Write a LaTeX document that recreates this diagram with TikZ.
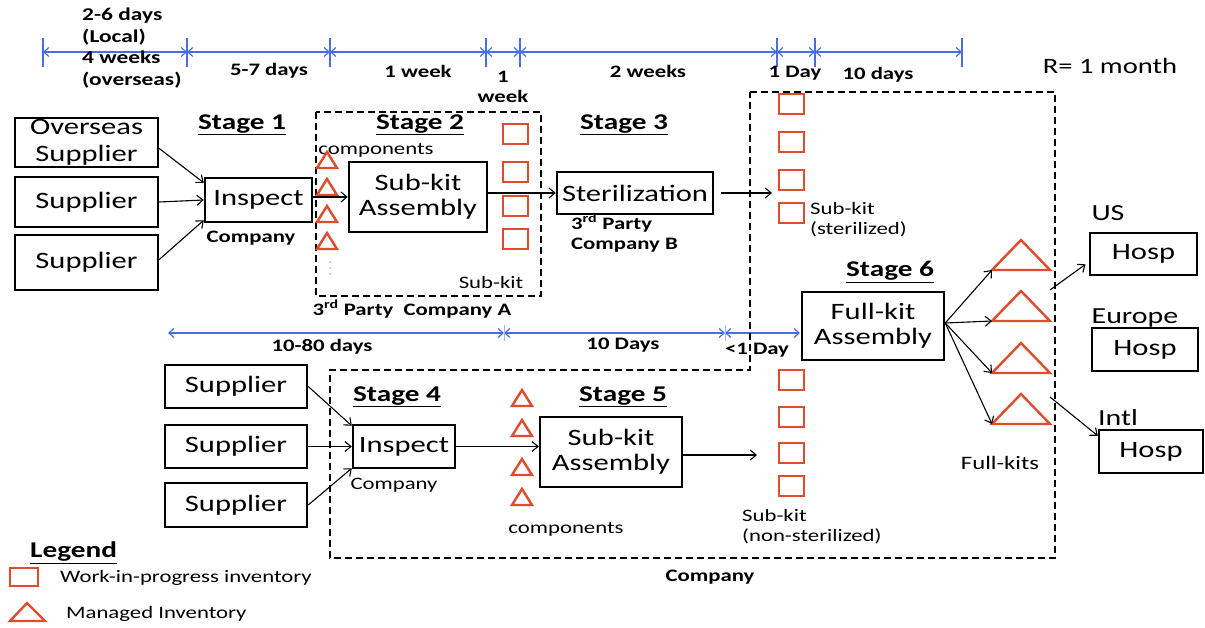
\documentclass[tikz,border=0pt]{standalone}
\usepackage{fontspec}
\setmainfont{Carlito}[FakeStretch=1.3]
\usetikzlibrary{arrows.meta}
\definecolor{inv}{RGB}{222,75,45}
\definecolor{tlc}{RGB}{70,110,225}
\begin{document}
\begin{tikzpicture}[x=1pt,y=-1pt,
 box/.style={draw,line width=2.5pt,inner sep=0pt,align=center,font=\fontsize{23.5}{25}\selectfont},
 conn/.style={draw,line width=1.1pt,-{Straight Barb[length=6pt,width=10pt]}},
 tline/.style={draw=tlc,line width=1.2pt,{Straight Barb[length=5pt,width=9pt]}-{Straight Barb[length=5pt,width=9pt]}},
 tmark/.style={draw=tlc,line width=1.4pt},
 lbl/.style={font=\fontsize{17.5}{21.5}\selectfont\bfseries,inner sep=0pt,align=center},
 lbll/.style={font=\fontsize{17.5}{20}\selectfont\bfseries,inner sep=0pt,align=left},
 txt/.style={font=\fontsize{17.5}{20}\selectfont,inner sep=0pt,align=left},
 stage/.style={font=\fontsize{22.5}{24}\selectfont\bfseries,inner sep=0pt},
 bigt/.style={font=\fontsize{23}{24}\selectfont,inner sep=0pt},
 wip/.style={draw=inv,line width=2.2pt},
 tri/.style={draw=inv,line width=2.4pt,line join=miter},
 dbox/.style={draw,line width=2pt,dash pattern=on 7pt off 4pt}
]
\useasboundingbox (0,0) rectangle (1205,628);

% ---------- top timeline ----------
\foreach \n/\x in {0/43,1/187,2/330,3/486,4/520,5/777,6/815,7/962}{
  \coordinate (t\n) at (\x,52);
  \draw[tmark] (\x,38) -- (\x,67);
}
\draw[tline] (t0) -- (t1);
\draw[tline] (t1) -- (t2);
\draw[tline] (t2) -- (t3);
\draw[tline] (t3) -- (t4);
\draw[tline] (t4) -- (t5);
\draw[tline] (t5) -- (t6);
\draw[tline] (t6) -- (t7);

\node[lbll,anchor=north west,font=\fontsize{18}{21.5}\selectfont\bfseries] (l26) at (82,8) {2-6 days\\(Local)\\4 weeks\\(overseas)};
\node[lbl] (l57) at (269,71) {5-7 days};
\node[lbl] (l1w) at (418,71) {1 week};
\node[lbl,font=\fontsize{17.5}{20}\selectfont\bfseries] (l1w2) at (503,87) {1\\week};
\node[lbl] (l2w) at (648,71) {2 weeks};
\node[lbl] (l1d) at (795,73) {1 Day};
\node[lbl] (l10d) at (878,75) {10 days};
\node[font=\fontsize{22}{24}\selectfont,inner sep=0pt] (rm) at (1110,66) {R= 1 month};

% ---------- middle timeline ----------
\coordinate (m0) at (168,333);
\coordinate (m1) at (504,333);
\coordinate (m2) at (725,333);
\coordinate (m3) at (800,333);
\draw[tline] (m0) -- (m1);
\draw[tline] (m1) -- (m2);
\draw[tline] (m2) -- (m3);
\draw[draw=tlc!50,line width=0.6pt] (504,325) -- (504,341);
\draw[draw=tlc!50,line width=0.6pt] (725,325) -- (725,341);
\node[lbl] (l1080) at (322,347) {10-80 days};
\node[lbl] (l10D) at (623,345) {10 Days};
\node[lbl] (llt1) at (757,350) {<1 Day};

% ---------- dashed regions ----------
\draw[dbox] (316,112) rectangle (541,296);
\draw[dbox] (750,92) -- (1055,92) -- (1055,558) -- (330,558) -- (330,370) -- (750,370) -- cycle;

% ---------- stage labels ----------
\node[stage] (st1) at (242,125) {\underline{Stage 1}};
\node[stage] (st2) at (420,125) {\underline{Stage 2}};
\node[stage] (st3) at (624,125) {\underline{Stage 3}};
\node[stage] (st4) at (397,397) {\underline{Stage 4}};
\node[stage] (st5) at (623,397) {\underline{Stage 5}};
\node[stage] (st6) at (890,272) {\underline{Stage 6}};

% ---------- boxes ----------
\node[box,minimum width=143,minimum height=49,font=\fontsize{23.5}{27}\selectfont] (os) at (86.5,142.5) {Overseas\\Supplier};
\node[box,minimum width=143,minimum height=50] (s1) at (86.5,202) {Supplier};
\node[box,minimum width=143,minimum height=55] (s2) at (86.5,262.5) {Supplier};
\node[box,minimum width=107,minimum height=44] (insp1) at (258.5,200) {Inspect};
\node[box,minimum width=138,minimum height=70] (sub1) at (418,197) {Sub-kit\\Assembly};
\node[box,minimum width=156,minimum height=42] (ster) at (635,193) {Sterilization};
\node[box,minimum width=142,minimum height=68] (full) at (873,326) {Full-kit\\Assembly};
\node[box,minimum width=107,minimum height=42] (hus) at (1143.5,254) {Hosp};
\node[box,minimum width=106,minimum height=43] (heu) at (1145,349.5) {Hosp};
\node[box,minimum width=104,minimum height=43] (hin) at (1151,451.5) {Hosp};
\node[box,minimum width=142,minimum height=43] (ls1) at (236,386.5) {Supplier};
\node[box,minimum width=142,minimum height=43] (ls2) at (236,446.5) {Supplier};
\node[box,minimum width=142,minimum height=44] (ls3) at (236,505) {Supplier};
\node[box,minimum width=102,minimum height=43] (insp2) at (404,446.5) {Inspect};
\node[box,minimum width=142,minimum height=70] (sub2) at (611,452) {Sub-kit\\Assembly};

\node[bigt] (us) at (1108,213) {US};
\node[bigt] (eu) at (1135,318) {Europe};
\node[bigt] (intl) at (1118,418) {Intl};

% ---------- small texts ----------
\node[txt] (comp1) at (376,150) {components};
\node[lbl] (co1) at (251,238) {Company};
\node[txt] (sk1) at (491,282) {Sub-kit};
\node[lbl] (tpa) at (412,309) {3\textsuperscript{rd} Party\ \ Company A};
\node[lbll,anchor=north west] (tpb) at (571,214) {3\textsuperscript{rd} Party\\Company B};
\node[txt,anchor=north west] (skst) at (810,202) {Sub-kit\\(sterilized)};
\node[txt] (co2) at (394,485) {Company};
\node[txt] (comp2) at (566,529) {components};
\node[txt,anchor=north west] (skns) at (742,509) {Sub-kit\\(non-sterilized)};
\node[txt,font=\fontsize{19}{20}\selectfont] (fk) at (1000,463) {Full-kits};
\node[lbl] (co3) at (710,577) {Company};

% ---------- inventory symbols ----------
\foreach \y in {160,187,214,241}{
  \draw[tri] (317,\y+8) -- (327,\y-8) -- (337,\y+8) -- cycle;
}
\foreach \y in {398,428,467,497}{
  \draw[tri] (512,\y+8) -- (522,\y-8) -- (532,\y+8) -- cycle;
}
\foreach \y in {262,268,274}{
  \fill[gray!60] (330,\y) circle (1pt);
}
\foreach \y in {134,172,206,239}{
  \draw[wip] (503,\y-10) rectangle (528,\y+10);
}
\foreach \y in {104,142,180,213}{
  \draw[wip] (779,\y-10) rectangle (804,\y+10);
}
\foreach \y in {380,417,453,486}{
  \draw[wip] (779,\y-10) rectangle (804,\y+10);
}
\foreach \n/\y in {1/240,2/291,3/343,4/394}{
  \coordinate (ft\n) at (992,\y+30);
  \draw[tri] (ft\n) -- (1021,\y) -- (1050,\y+30) -- cycle;
}

% ---------- connectors ----------
\draw[conn] ([yshift=-6pt]os.east) -- ([yshift=-6pt]insp1.north west);
\draw[conn] (s1.east) -- (insp1.west);
\draw[conn] ([yshift=3pt]s2.east) -- ([yshift=3pt]insp1.south west);
\draw[conn] (insp1.east |- sub1.west) -- (sub1.west);
\draw[conn] (sub1.east |- ster.west) -- (ster.west);
\coordinate (c1) at (772,193);
\draw[conn,shorten <=7pt] (ster.east) -- (c1);
\draw[conn] (ls1.east) -- ([yshift=-2pt]insp2.north west);
\draw[conn] (ls2.east) -- (insp2.west);
\draw[conn] (ls3.east) -- ([yshift=1pt]insp2.south west);
\draw[conn] (insp2.east) -- (insp2.east -| sub2.west);
\coordinate (c2) at (757,455);
\draw[conn] (sub2.east |- c2) -- (c2);
\foreach \n in {1,2,3,4}{
  \draw[conn] ([yshift=3pt]full.east) -- (ft\n);
}
\coordinate (c3) at (1050,290);
\draw[conn,shorten >=4pt] (c3) -- ([yshift=-8pt]hus.west);
\coordinate (c4) at (1050,397);
\draw[conn] (c4) -- ([yshift=-7pt]hin.north west);

% ---------- legend ----------
\node[stage,anchor=west] (leg) at (30,553) {\underline{Legend}};
\draw[wip] (10,568) rectangle (38,586);
\draw[tri] (10,621) -- (27,603) -- (45,621) -- cycle;
\node[txt,anchor=west] (lw) at (60,578) {Work-in-progress inventory};
\node[txt,anchor=west] (lm) at (66,614) {Managed Inventory};
\end{tikzpicture}
\end{document}
